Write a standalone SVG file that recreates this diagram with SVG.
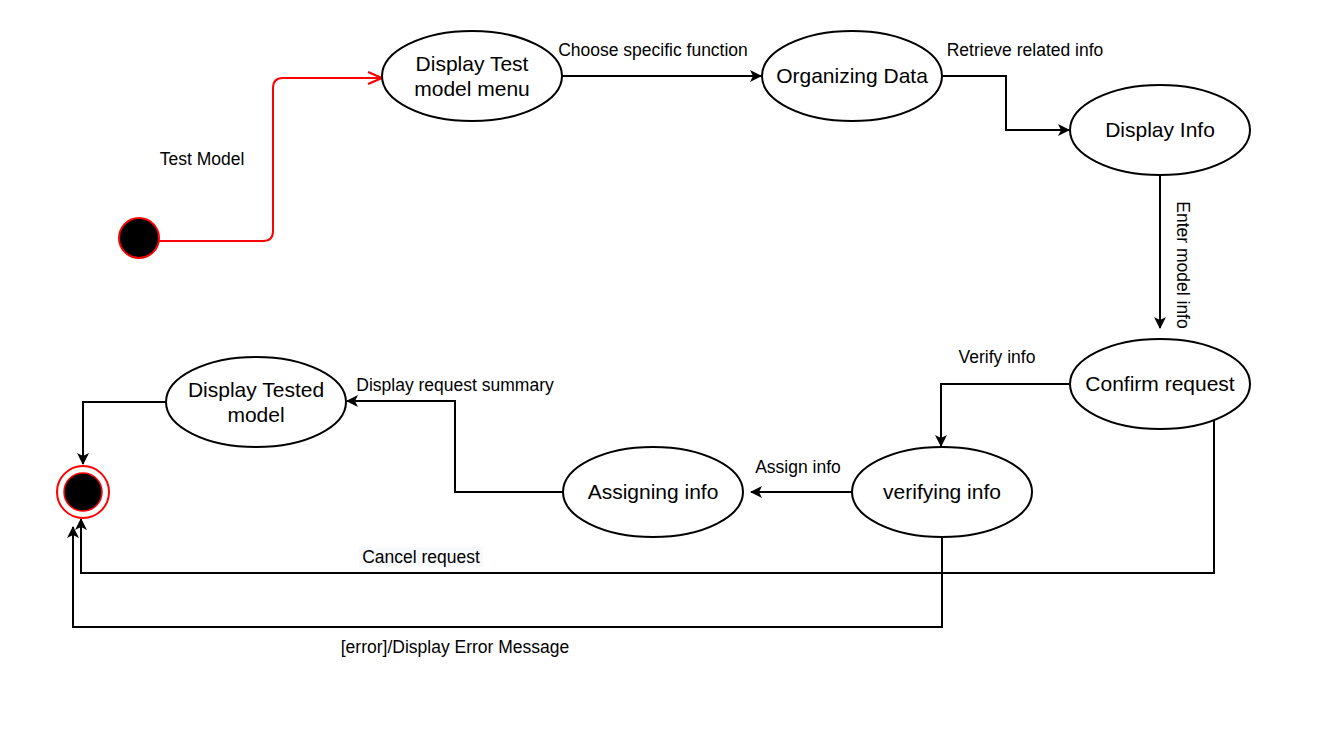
<svg xmlns="http://www.w3.org/2000/svg" width="1337" height="741" viewBox="0 0 1337 741">
<style>
.node{fill:#fff;stroke:#000;stroke-width:2}
.nt{font-family:"Liberation Sans",Arial,sans-serif;font-size:21px;fill:#000;text-anchor:middle}
.el{font-family:"Liberation Sans",Arial,sans-serif;font-size:17.5px;fill:#000;text-anchor:middle}
.c{fill:none;stroke:#000;stroke-width:2}
</style>
<defs>
<marker id="ah" viewBox="0 0 12 12" refX="11" refY="6" markerWidth="12" markerHeight="12" markerUnits="userSpaceOnUse" orient="auto">
<path d="M0,0 L12,6 L0,12 L3,6 z" fill="#000"/>
</marker>
<marker id="open" viewBox="0 0 16 14" refX="15" refY="7" markerWidth="16" markerHeight="14" markerUnits="userSpaceOnUse" orient="auto">
<path d="M1,1 L15,7 L1,13" fill="none" stroke="#f00" stroke-width="2"/>
</marker>
</defs>
<rect width="1337" height="741" fill="#fff"/>
<g id="connectors">
<path d="M159,241 H263 Q273,241 273,231 V88 Q273,78 283,78 H382" fill="none" stroke="#f00" stroke-width="2" marker-end="url(#open)"/>
<path class="c" d="M563,76 H761" marker-end="url(#ah)"/>
<path class="c" d="M943,76 H1006 V130 H1069" marker-end="url(#ah)"/>
<path class="c" d="M1160,175 V328" marker-end="url(#ah)"/>
<path class="c" d="M1069,384 H941 V446" marker-end="url(#ah)"/>
<path class="c" d="M852,492 H751" marker-end="url(#ah)"/>
<path class="c" d="M563,492 H455 V401 H347" marker-end="url(#ah)"/>
<path class="c" d="M165,402 H83 V464" marker-end="url(#ah)"/>
<path class="c" d="M1214,420 V573 H81 V519" marker-end="url(#ah)"/>
<path class="c" d="M942,537 V627 H73 V527" marker-end="url(#ah)"/>
<text class="el" x="202" y="165">Test Model</text>
<text class="el" x="653" y="56">Choose specific function</text>
<text class="el" x="1025" y="56">Retrieve related info</text>
<text class="el" transform="translate(1177,265) rotate(90)">Enter model info</text>
<text class="el" x="997" y="363">Verify info</text>
<text class="el" x="798" y="473">Assign info</text>
<text class="el" x="455" y="391">Display request summary</text>
<rect x="359" y="547" width="124" height="20" fill="#f8f9fb"/>
<text class="el" x="421" y="563">Cancel request</text>
<text class="el" x="455" y="653">[error]/Display Error Message</text>
</g>
<g id="start"><circle cx="139" cy="238" r="20" fill="#000" stroke="#f00" stroke-width="2"/></g>
<g id="display-test-menu"><ellipse class="node" cx="472" cy="76" rx="90" ry="45"/><text class="nt" x="472" y="71">Display Test</text><text class="nt" x="472" y="96">model menu</text></g>
<g id="organizing-data"><ellipse class="node" cx="852" cy="76" rx="90" ry="45"/><text class="nt" x="852" y="83">Organizing Data</text></g>
<g id="display-info"><ellipse class="node" cx="1160" cy="130" rx="90" ry="45"/><text class="nt" x="1160" y="137">Display Info</text></g>
<g id="confirm-request"><ellipse class="node" cx="1160" cy="384" rx="90" ry="45"/><text class="nt" x="1160" y="391">Confirm request</text></g>
<g id="verifying-info"><ellipse class="node" cx="942" cy="492" rx="90" ry="45"/><text class="nt" x="942" y="499">verifying info</text></g>
<g id="assigning-info"><ellipse class="node" cx="653" cy="492" rx="90" ry="45"/><text class="nt" x="653" y="499">Assigning info</text></g>
<g id="display-tested-model"><ellipse class="node" cx="256" cy="402" rx="90" ry="45"/><text class="nt" x="256" y="397">Display Tested</text><text class="nt" x="256" y="422">model</text></g>
<g id="end"><circle cx="83" cy="492" r="26" fill="#fff" stroke="#f00" stroke-width="2"/><circle cx="83" cy="492" r="19" fill="#000" stroke="#f00" stroke-width="1.5"/></g>
</svg>
